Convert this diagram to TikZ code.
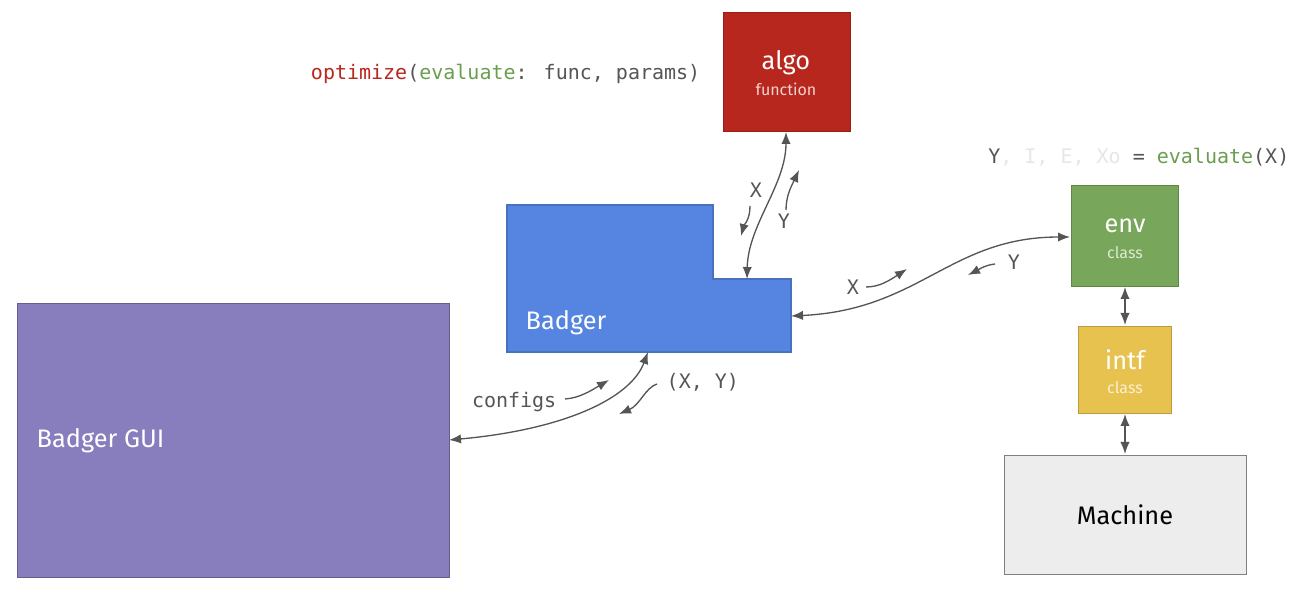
\documentclass[tikz,border=0pt]{standalone}
\usepackage{fontspec}
\setmainfont{Fira Sans}
\newfontfamily\mono{DejaVu Sans Mono}
\usetikzlibrary{arrows.meta}
\definecolor{algoc}{HTML}{B8271D}
\definecolor{badc}{HTML}{5585E0}
\definecolor{guic}{HTML}{887DBD}
\definecolor{envc}{HTML}{78A65A}
\definecolor{intfc}{HTML}{E8C24E}
\definecolor{machc}{HTML}{EDEDED}
\definecolor{arr}{HTML}{555555}
\definecolor{evalg}{HTML}{6A9E4F}
\definecolor{faint}{HTML}{E6E6E6}
\begin{document}
\begin{tikzpicture}[x=0.75pt,y=-0.75pt,
  conn/.style={draw=arr,line width=1pt,{Latex[length=9pt,width=7pt]}-{Latex[length=9pt,width=7pt]}},
  sm/.style={draw=arr,line width=1pt,-{Latex[length=9pt,width=7pt]}},
  box/.style={draw,line width=1pt,anchor=north west,inner sep=0pt},
  lbl/.style={text=arr,font=\mono\fontsize{15}{15}\selectfont}]
\useasboundingbox (0,0) rectangle (1304,598);
\node[box,fill=algoc,draw=algoc!80!black,minimum width=127pt*0.75,minimum height=119pt*0.75] (algo) at (723,12) {};
\node[text=white,font=\fontsize{19}{19}\selectfont] at (786,63) {algo};
\node[text=white!80!algoc,font=\fontsize{12}{12}\selectfont] at (786,89) {function};
\fill[badc,draw=badc!85!black,line width=0.8pt] (507,205) -- (713,205) -- (713,279) -- (791,279) -- (791,352) -- (507,352) -- cycle;
\coordinate (badtop) at (747,279);
\coordinate (badright) at (791,316);
\coordinate (badbot) at (648,352);
\node[anchor=west,text=white,font=\fontsize{19}{19}\selectfont] at (521,323) {Badger};
\node[box,fill=guic,draw=guic!75!black,minimum width=432pt*0.75,minimum height=274pt*0.75] (gui) at (17,303) {};
\node[anchor=west,text=white,font=\fontsize{19}{19}\selectfont] at (32,441) {Badger GUI};
\node[box,fill=envc,draw=envc!80!black,minimum width=107pt*0.75,minimum height=101pt*0.75] (env) at (1071,185) {};
\node[text=white,font=\fontsize{19}{19}\selectfont] at (1125,226) {env};
\node[text=white!75!envc,font=\fontsize{12}{12}\selectfont] at (1125,253) {class};
\node[box,fill=intfc,draw=intfc!80!black,minimum width=93pt*0.75,minimum height=87pt*0.75] (intf) at (1078,326) {};
\node[text=white,font=\fontsize{19}{19}\selectfont] at (1125,360) {intf};
\node[text=white!75!intfc,font=\fontsize{12}{12}\selectfont] at (1125,388) {class};
\node[box,fill=machc,draw=gray,minimum width=242pt*0.75,minimum height=119pt*0.75] (mach) at (1004,455) {};
\node[text=black,font=\fontsize{19}{19}\selectfont] at (1125,515) {Machine};
\node[anchor=east,lbl] at (705,74) {\textcolor{algoc}{optimize}(\textcolor{evalg}{evaluate}: func, params)};
\node[anchor=east,lbl] at (1294,157) {Y\textcolor{faint}{, I, E, Xo} = \textcolor{evalg}{evaluate}(X)};
\draw[conn] (786,132) .. controls (786,185) and (748,225) .. (badtop);
\draw[conn] (badright) .. controls (920,310) and (950,237) .. (1070,237);
\draw[conn] (449,440) .. controls (560,430) and (630,400) .. (badbot);
\draw[conn] (1125,287) -- (1125,325);
\draw[conn] (1125,414) -- (1125,454);
\node[lbl] (lx1) at (756,190) {X};
\node[lbl] (ly1) at (784,221) {Y};
\node[lbl] (lx2) at (853,287) {X};
\node[lbl] (ly2) at (1014,262) {Y};
\node[lbl,anchor=east] (lc) at (561,402) {configs};
\node[lbl,anchor=west] (lxy) at (662,382) {(X, Y)};
\draw[sm] (750,206) .. controls (750,220) and (744,225) .. (741,236);
\draw[sm] (786,210) .. controls (786,195) and (792,185) .. (799,170);
\draw[sm] (866,287) .. controls (880,287) and (890,280) .. (907,269);
\draw[sm] (995,264) .. controls (985,265) and (978,270) .. (968,275);
\draw[sm] (565,399) .. controls (580,398) and (592,390) .. (609,380);
\draw[sm] (657,384) .. controls (645,388) and (640,405) .. (619,414);
\end{tikzpicture}
\end{document}
